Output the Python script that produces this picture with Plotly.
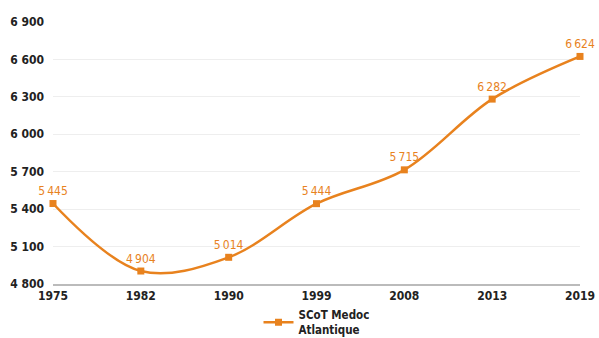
import plotly.graph_objects as go

years = ["1975", "1982", "1990", "1999", "2008", "2013", "2019"]
values = [5445, 4904, 5014, 5444, 5715, 6282, 6624]
y_ticks = [4800, 5100, 5400, 5700, 6000, 6300, 6600, 6900]
y_tick_labels = ["4 800", "5 100", "5 400", "5 700", "6 000", "6 300", "6 600", "6 900"]

def fmt(v):
    s = str(v)
    return s[0] + "\u2009" + s[1:]

orange = "#E8821E"
font_fam = "DejaVu Sans Condensed, DejaVu Sans"

fig = go.Figure()
fig.add_trace(go.Scatter(
    x=list(range(len(years))), y=values,
    mode="lines+markers+text",
    line=dict(color=orange, width=2.5, shape="spline", smoothing=1.0),
    marker=dict(symbol="square", size=7, color=orange),
    text=[fmt(v) for v in values],
    textposition="top center",
    textfont=dict(color=orange, size=12, family=font_fam),
    name="<b>SCoT Medoc<br>Atlantique</b>",
    cliponaxis=False,
))

fig.update_layout(
    width=599, height=338,
    margin=dict(l=53, r=19, t=22, b=54, autoexpand=False),
    paper_bgcolor="white", plot_bgcolor="white",
    font=dict(family=font_fam, size=12, color="#222222"),
    showlegend=True,
    legend=dict(orientation="h", x=0.5, xanchor="center",
                yref="container", y=0.11, yanchor="top",
                bgcolor="rgba(0,0,0,0)",
                font=dict(size=11.5, color="#222222")),
    xaxis=dict(
        tickmode="array", tickvals=list(range(len(years))), ticktext=["<b>%s</b>" % y for y in years],
        range=[0, len(years) - 1], showgrid=False, zeroline=False,
        showline=True, linecolor="#BBBBBB", linewidth=1.5, ticks="",
        tickfont=dict(size=12, color="#222222"),
    ),
    yaxis=dict(
        tickmode="array", tickvals=y_ticks, ticktext=["<b>%s</b>" % t for t in y_tick_labels],
        range=[4800, 6900], showgrid=True, gridcolor="#EEEEEE", gridwidth=1,
        zeroline=False, ticks="", ticklabelstandoff=8,
        tickfont=dict(size=12, color="#222222"),
    ),
)

fig.write_html("out.html")
